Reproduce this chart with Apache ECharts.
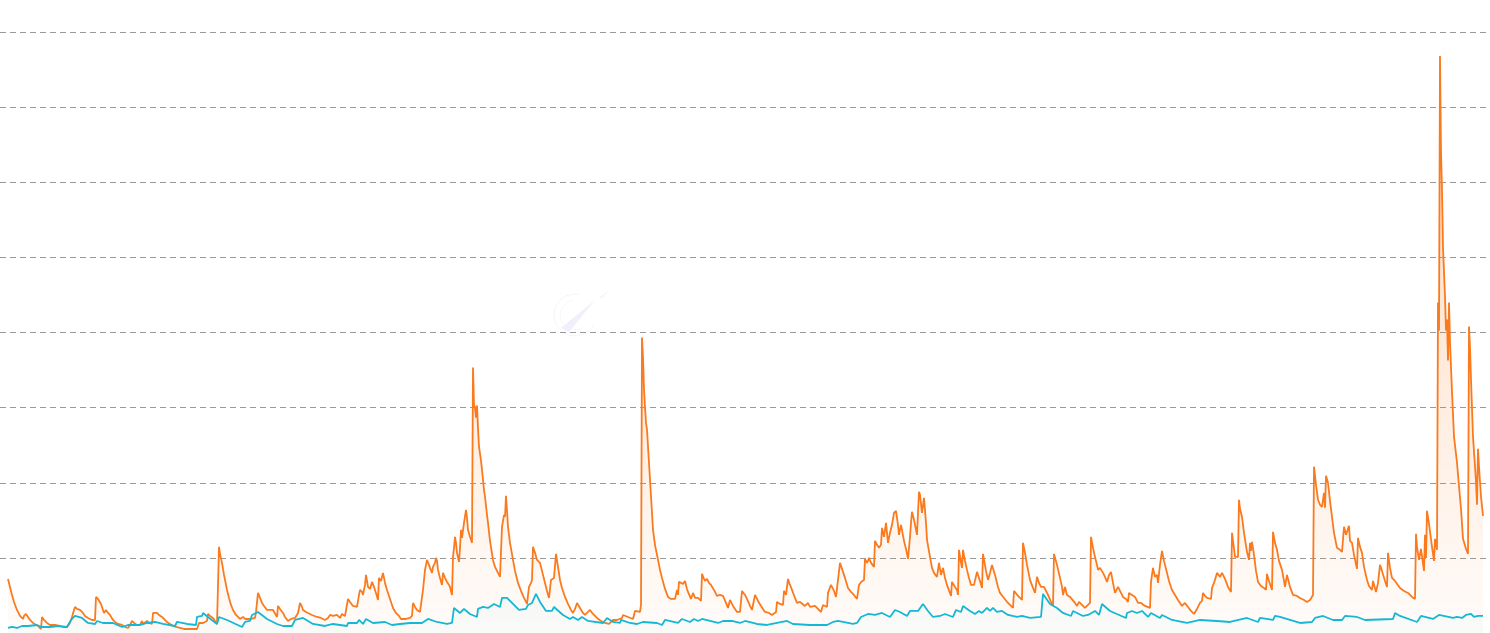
<!DOCTYPE html>
<html><head><meta charset="utf-8">
<script src="https://cdn.jsdelivr.net/npm/echarts@6/dist/echarts.min.js"></script>
<style>html,body{margin:0;padding:0;background:#fff}#c{width:1490px;height:633px}</style>
</head><body><div id="c"></div>
<script>
var orangeSeries=[[8,54],[10,46],[12,38],[14,31],[17,23],[19,19],[20,17],[22,18],[23,14],[24,17],[26,19],[28,16],[30,13],[33,10],[35,9],[38,7],[41,4],[42,16],[44,13],[47,10],[50,8],[52,7],[55,8],[57,8],[60,7],[63,6],[67,6],[70,10],[72,16],[74,23],[75,26],[77,24],[78,25],[80,23],[83,20],[85,17],[88,15],[90,15],[92,13],[95,13],[96,36],[98,34],[99,34],[101,29],[102,26],[104,20],[106,23],[108,20],[110,18],[113,13],[115,11],[118,9],[122,8],[125,6],[128,5],[130,8],[132,12],[134,10],[137,8],[140,8],[142,12],[143,9],[145,9],[147,12],[149,10],[152,9],[153,20],[155,20],[157,20],[159,18],[162,16],[165,13],[167,11],[170,9],[173,7],[176,6],[180,5],[184,4],[187,4],[192,4],[197,4],[199,10],[203,10],[205,10],[207,12],[208,19],[210,17],[213,15],[215,12],[217,9],[219,86],[220,79],[222,70],[224,58],[227,43],[229,35],[231,28],[233,23],[236,18],[240,14],[243,16],[245,14],[248,14],[251,14],[253,13],[255,15],[256,21],[258,40],[260,35],[262,30],[264,27],[267,23],[270,23],[273,23],[275,22],[277,16],[278,27],[280,24],[283,20],[285,16],[288,12],[291,14],[295,15],[298,20],[300,30],[302,26],[303,23],[306,21],[308,20],[312,18],[317,16],[321,15],[325,13],[328,15],[330,18],[333,17],[337,18],[340,15],[342,19],[343,20],[345,17],[347,16],[348,34],[350,31],[353,27],[355,28],[357,26],[359,38],[360,43],[362,41],[363,38],[365,48],[366,58],[367,52],[368,46],[370,44],[372,51],[374,46],[376,40],[378,33],[379,55],[381,52],[383,60],[385,50],[387,43],[390,34],[393,25],[396,20],[399,17],
[400,16],[401,14],[403,15],[406,14],[410,15],[412,17],[413,30],[415,26],[417,23],[420,21],[422,20],[423,43],[425,63],[427,73],[429,68],[430,65],[432,60],[433,66],[435,70],[436,75],[437,72],[438,63],[440,55],[442,48],[443,60],[445,55],[447,51],[449,48],[450,46],[452,38],[453,76],[454,85],[455,96],[456,90],[457,80],[459,71],[460,85],[461,103],[462,95],[464,110],[466,123],[467,115],[468,103],[470,96],[472,90],[473,265],[474,228],[475,225],[476,215],[477,227],[478,205],[479,186],[481,172],[482,163],[484,143],[485,136],[487,118],[488,110],[490,92],[493,73],[495,66],[498,60],[500,56],[502,106],[503,112],[504,118],[505,116],[506,137],[507,122],[508,106],[510,90],[513,73],[515,62],[518,50],[521,42],[524,35],[527,29],[529,46],[531,50],[532,53],[533,86],[535,80],[537,73],[540,70],[542,62],[545,50],[547,42],[549,35],[551,53],[554,55],[556,79],[558,66],[560,53],[562,45],[565,36],[568,29],[571,23],[573,20],[575,24],[577,30],[580,25],[583,20],[585,18],[587,20],[590,23],[593,19],[597,15],[601,12],[605,10],[609,9],[613,13],[617,13],[622,15],[623,18],[628,16],[633,14],[635,22],[637,21],[640,21],[641,28],[642,295],[643,275],[644,243],[645,225],[646,210],[647,203],[649,170],[650,153],[652,120],[653,103],[655,88],[658,73],[660,63],[662,55],[665,44],[668,36],[671,34],[675,34],[677,43],[678,38],[679,51],[681,50],[683,49],[685,52],[687,44],[688,41],[691,34],[693,40],[695,35],[698,35],[701,32],[702,59],[704,54],[705,52],[707,54],[709,50],[711,48],[714,43],[717,37],[720,38],[723,37],[726,30],[728,25],[730,33],[733,27],[737,21],[740,21],[742,42],[745,38],[747,34],[750,27],[752,23],[755,38],[758,32],[761,27],[765,21],[769,20],[772,18],[776,21],[777,31],[780,29],[783,28],[784,42],[786,38],[788,54],[790,48],[792,43],[795,35],[797,30],
[800,31],[802,31],[805,27],[808,30],[810,26],[812,26],[815,27],[818,24],[821,21],[823,28],[825,27],[827,26],[828,40],[830,40],[831,48],[834,42],[836,36],[838,53],[840,70],[842,64],[843,63],[845,55],[848,45],[851,41],[854,38],[857,34],[859,48],[861,51],[864,53],[865,74],[867,70],[868,72],[869,75],[871,70],[874,66],[875,92],[877,88],[879,85],[881,88],[882,105],[884,96],[886,110],[887,100],[888,90],[890,100],[892,108],[894,120],[896,122],[898,108],[899,98],[901,108],[902,108],[904,92],[906,84],[908,74],[910,96],[911,110],[912,121],[914,113],[917,98],[918,120],[919,141],[920,138],[922,120],[924,135],[926,110],[927,93],[930,76],[932,65],[934,60],[937,56],[939,70],[941,58],[943,65],[945,55],[947,48],[951,37],[952,51],[955,46],[957,43],[958,38],[959,83],[961,70],[962,65],[963,83],[965,72],[967,63],[969,55],[971,48],[974,48],[976,48],[977,61],[980,52],[982,45],[983,79],[986,62],[988,53],[990,60],[992,68],[995,58],[998,46],[1000,40],[1004,35],[1008,30],[1011,27],[1013,25],[1014,42],[1018,37],[1022,33],[1023,90],[1025,80],[1027,68],[1030,53],[1033,45],[1035,40],[1037,56],[1039,50],[1041,46],[1044,46],[1048,38],[1051,31],[1053,27],[1054,79],[1057,68],[1060,55],[1062,46],[1063,38],[1065,46],[1067,38],[1070,36],[1072,36],[1075,30],[1077,27],[1079,31],[1082,28],[1085,25],[1090,30],[1091,96],[1093,85],[1095,76],[1097,68],[1098,63],
[1100,65],[1103,60],[1105,56],[1107,51],[1109,58],[1111,61],[1113,50],[1115,40],[1118,46],[1120,42],[1123,36],[1126,34],[1128,31],[1129,40],[1132,38],[1135,36],[1138,30],[1141,30],[1145,27],[1150,25],[1151,51],[1153,65],[1155,56],[1157,58],[1158,50],[1160,68],[1162,82],[1164,72],[1167,60],[1169,52],[1172,43],[1175,38],[1178,33],[1182,27],[1185,30],[1188,26],[1191,22],[1194,19],[1197,24],[1200,30],[1202,32],[1203,40],[1205,37],[1207,35],[1211,34],[1212,45],[1214,50],[1217,60],[1220,56],[1222,60],[1225,54],[1228,46],[1231,41],[1232,100],[1233,92],[1235,76],[1238,76],[1239,133],[1240,124],[1242,116],[1244,100],[1247,81],[1249,73],[1250,90],[1251,82],[1252,91],[1254,78],[1256,62],[1258,51],[1261,47],[1264,45],[1266,43],[1267,59],[1269,52],[1272,43],[1273,101],[1275,90],[1277,83],[1279,72],[1282,63],[1284,52],[1285,46],[1287,58],[1290,46],[1293,38],[1297,37],[1300,35],[1304,33],[1307,31],[1310,33],[1313,38],[1314,166],[1316,148],[1318,133],[1320,128],[1322,126],[1324,140],[1325,125],[1326,157],[1328,150],[1330,132],[1332,116],[1334,100],[1337,85],[1340,83],[1342,81],[1344,106],[1346,98],[1349,107],[1350,92],[1352,90],[1354,78],[1357,64],[1358,95],[1360,86],[1362,80],[1364,66],[1367,53],[1369,47],[1372,43],[1373,52],[1376,41],[1378,50],[1380,68],[1382,62],[1385,52],[1387,46],[1388,80],[1390,65],[1392,55],[1395,52],[1397,51],[1400,45],[1404,42],[1408,40],[1412,36],[1415,34],[1416,99],[1417,86],[1419,73],[1421,84],[1424,62],[1425,98],[1426,75],[1427,122],[1429,109],[1432,86],[1434,72],[1435,94],[1437,83],[1438,330],[1439,302],[1440,576],[1441,480],[1442,442],[1443,385],[1445,336],[1446,302],[1447,313],[1448,272],[1449,330],[1450,291],[1452,241],[1454,196],[1457,170],[1458,158],[1461,124],[1463,94],[1466,84],[1468,79],[1469,306],[1470,285],[1471,253],[1473,196],[1476,151],[1477,128],[1478,184],[1479,166],[1481,136],[1483,117]];
var blueSeries=[[8,5],[12,6],[17,5],[22,7],[28,7],[37,8],[42,6],[50,6],[58,7],[67,6],[71,13],[75,17],[82,15],[88,10],[95,9],[97,12],[103,10],[113,10],[122,6],[128,8],[140,8],[147,10],[155,11],[163,9],[175,7],[177,11],[187,9],[196,8],[197,16],[202,17],[203,20],[208,16],[217,9],[219,16],[227,13],[242,6],[245,11],[250,12],[252,18],[258,21],[267,14],[277,9],[283,7],[292,7],[295,13],[303,15],[313,9],[325,7],[333,9],[347,7],[348,10],[357,10],[359,13],[363,9],[366,14],[373,10],[385,11],[392,8],[400,9],[410,10],[422,10],[428,14],[437,11],[447,9],[452,10],[454,25],[460,20],[464,24],[470,19],[477,16],[478,24],[483,26],[488,25],[494,29],[500,26],[502,35],[507,35],[513,29],[519,23],[526,24],[528,28],[532,30],[536,39],[540,31],[546,22],[552,22],[554,26],[563,18],[570,14],[573,16],[578,13],[582,16],[588,12],[603,10],[607,15],[613,11],[620,10],[621,13],[630,10],[637,9],[643,11],[657,10],[662,8],[665,13],[678,10],[682,14],[690,11],[694,14],[698,12],[702,14],[710,12],[718,10],[723,12],[732,12],[740,10],[745,12],[757,9],[767,8],[787,12],[793,9],[810,8],[827,8],[833,11],[838,12],[853,9],[857,10],[861,16],[868,19],[875,18],[882,20],[890,16],[895,23],[900,21],[907,17],[910,22],[918,22],[923,29],[928,22],[933,16],[940,17],[945,19],[953,16],[956,23],[961,21],[963,27],[970,22],[975,19],[979,22],[982,20],[987,25],[990,22],[993,25],[997,21],[1002,22],[1008,18],[1017,16],[1022,17],[1030,15],[1041,16],[1043,39],[1050,29],[1057,25],[1063,20],[1071,17],[1073,22],[1083,17],[1088,18],[1095,22],[1099,18],[1102,29],[1110,22],[1126,15],[1127,20],[1132,22],[1137,20],[1142,22],[1148,16],[1151,20],[1160,15],[1162,18],[1172,13],[1187,10],[1200,13],[1217,12],[1230,11],[1247,15],[1258,11],[1260,15],[1273,13],[1275,17],[1280,16],[1300,10],[1312,11],[1315,15],[1323,17],[1333,13],[1342,13],[1345,17],[1357,16],[1365,13],[1393,14],[1395,20],[1400,17],[1417,11],[1421,17],[1433,14],[1439,18],[1453,15],[1457,16],[1462,15],[1466,18],[1471,19],[1474,16],[1478,17],[1483,17]];
var gridTicks=[0,75,150,225,300,375,450,525,600];
var chart=echarts.init(document.getElementById('c'));
chart.setOption({
animation:false,
grid:{left:0,top:32,width:1486,height:601.6,containLabel:false},
xAxis:{type:'value',min:0,max:1486,show:false,splitLine:{show:false}},
yAxis:{type:'value',min:gridTicks[0],max:gridTicks[gridTicks.length-1],interval:75,
 axisLine:{show:false},axisTick:{show:false},axisLabel:{show:false},
 splitLine:{show:true,showMinLine:false,lineStyle:{color:'#9a9a9a',type:[6,4],width:1}}},
graphic:[
 {type:'arc',silent:true,shape:{cx:575,cy:315,r:21,startAngle:0.5,endAngle:4.9,clockwise:true},style:{fill:'none',stroke:'#f4f4f6',lineWidth:1}},
 {type:'arc',silent:true,shape:{cx:575,cy:315,r:15,startAngle:1.0,endAngle:4.6,clockwise:true},style:{fill:'none',stroke:'#f7f7f9',lineWidth:1}},
 {type:'polygon',silent:true,shape:{points:[[561,328],[595,300],[569,332]]},style:{fill:'#f0effc'}},
 {type:'polygon',silent:true,shape:{points:[[599,298],[609,290],[602,298]]},style:{fill:'#f3f3f8'}}
],
series:[
 {type:'line',data:orangeSeries,showSymbol:false,symbol:'none',z:2,
  lineStyle:{color:'#fb7a1e',width:1.8},
  areaStyle:{color:new echarts.graphic.LinearGradient(0,0,0,1,[{offset:0,color:'rgba(251,122,30,0.42)'},{offset:1,color:'rgba(251,122,30,0.04)'}])}},
 {type:'line',data:blueSeries,showSymbol:false,symbol:'none',z:3,
  lineStyle:{color:'#14b8d4',width:1.8},
  areaStyle:{color:new echarts.graphic.LinearGradient(0,0,0,1,[{offset:0,color:'rgba(20,184,212,0.05)'},{offset:1,color:'rgba(20,184,212,0.03)'}])}}
]});
</script></body></html>
